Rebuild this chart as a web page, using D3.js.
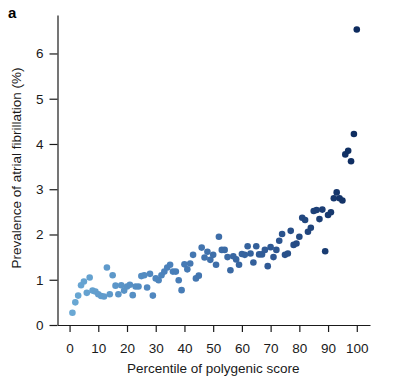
<!DOCTYPE html>
<html lang="en">
  <head>
    <meta charset="utf-8">
    <title>Prevalence of AF by polygenic score percentile</title>
    <script src="https://d3js.org/d3.v7.min.js"></script>
    <style>
      body {
        margin: 0;
        background: #ffffff;
      }
      svg {
        font-family: "Liberation Sans", Arial, sans-serif;
      }
      .tick text {
        font-size: 13.5px;
        fill: #1a1a1a;
      }
      .axis path, .axis line {
        stroke: #1a1a1a;
        stroke-width: 1.2;
      }
      .title {
        font-size: 13.5px;
        fill: #1a1a1a;
      }
      .panel {
        font-size: 15px;
        font-weight: bold;
      }
    </style>
  </head>
  <body>
    <div id="chart"></div>
    <script>

    // data: percentile of polygenic score vs prevalence of AF (%)
    const percentiles = d3.range(1, 101);
    const prevalence = [
      0.27, 0.50, 0.65, 0.88, 0.96, 0.71, 1.05, 0.76, 0.74, 0.68,
      0.64, 0.63, 1.27, 0.68, 1.10, 0.87, 0.68, 0.88, 0.76, 0.85,
      0.89, 0.66, 0.85, 0.85, 1.08, 1.10, 0.83, 1.13, 0.65, 1.03,
      0.99, 1.10, 1.18, 1.27, 1.33, 1.18, 1.18, 0.99, 0.77, 1.34,
      1.23, 1.36, 1.55, 1.03, 1.09, 1.71, 1.49, 1.62, 1.44, 1.55,
      1.33, 1.95, 1.66, 1.66, 1.50, 1.21, 1.52, 1.45, 1.33, 1.57,
      1.55, 1.74, 1.58, 1.38, 1.74, 1.56, 1.56, 1.66, 1.30, 1.72,
      1.50, 1.66, 1.86, 2.01, 1.55, 1.58, 2.08, 1.77, 1.80, 1.95,
      2.37, 2.32, 2.06, 2.15, 2.52, 2.54, 2.34, 2.55, 1.63, 2.43,
      2.49, 2.80, 2.93, 2.80, 2.75, 3.77, 3.85, 3.62, 4.22, 6.53
    ];
    const xTicks = [0, 10, 20, 30, 40, 50, 60, 70, 80, 90, 100];
    const yTicks = [0, 1, 2, 3, 4, 5, 6];

    const data = percentiles.map((p, i) => ({p: p, v: prevalence[i]}));

    // layout
    const width = 397;
    const height = 385;
    const plot = {left: 57.5, right: 370, top: 15, bottom: 325};

    const x = d3.scaleLinear()
      .domain([-4.2, 104.6])
      .range([plot.left, plot.right]);

    const y = d3.scaleLinear()
      .domain([0, 6.85])
      .range([plot.bottom, plot.top]);

    // light blue -> navy along percentile
    const color = d3.scaleLinear()
      .domain([1, 35, 70, 100])
      .range(['#6aa8d4', '#4a80ba', '#2f5994', '#0d2b5e'])
      .interpolate(d3.interpolateRgb);

    const svg = d3.select('#chart')
      .append('svg')
      .attr('width', width)
      .attr('height', height);

    svg.append('text')
      .attr('class', 'panel')
      .attr('x', 8)
      .attr('y', 18)
      .text('a');

    // axes
    svg.append('g')
      .attr('class', 'axis')
      .attr('transform', 'translate(0,' + plot.bottom + ')')
      .call(d3.axisBottom(x).tickValues(xTicks).tickSize(7).tickPadding(11).tickSizeOuter(0));

    svg.append('g')
      .attr('class', 'axis')
      .attr('transform', 'translate(' + plot.left + ',0)')
      .call(d3.axisLeft(y).tickValues(yTicks).tickFormat(d3.format('d'))
        .tickSize(8).tickPadding(6).tickSizeOuter(0));

    // points
    svg.append('g')
      .selectAll('circle')
      .data(data)
      .join('circle')
      .attr('cx', d => x(d.p))
      .attr('cy', d => y(d.v))
      .attr('r', 3.3)
      .attr('fill', d => color(d.p));

    // axis titles
    svg.append('text')
      .attr('class', 'title')
      .attr('text-anchor', 'middle')
      .attr('x', (x(0) + x(100)) / 2)
      .attr('y', 373)
      .text('Percentile of polygenic score');

    svg.append('text')
      .attr('class', 'title')
      .attr('text-anchor', 'middle')
      .attr('transform', 'translate(21,' + 168 + ') rotate(-90)')
      .text('Prevalence of atrial fibrillation (%)');

    </script>
  </body>
</html>
